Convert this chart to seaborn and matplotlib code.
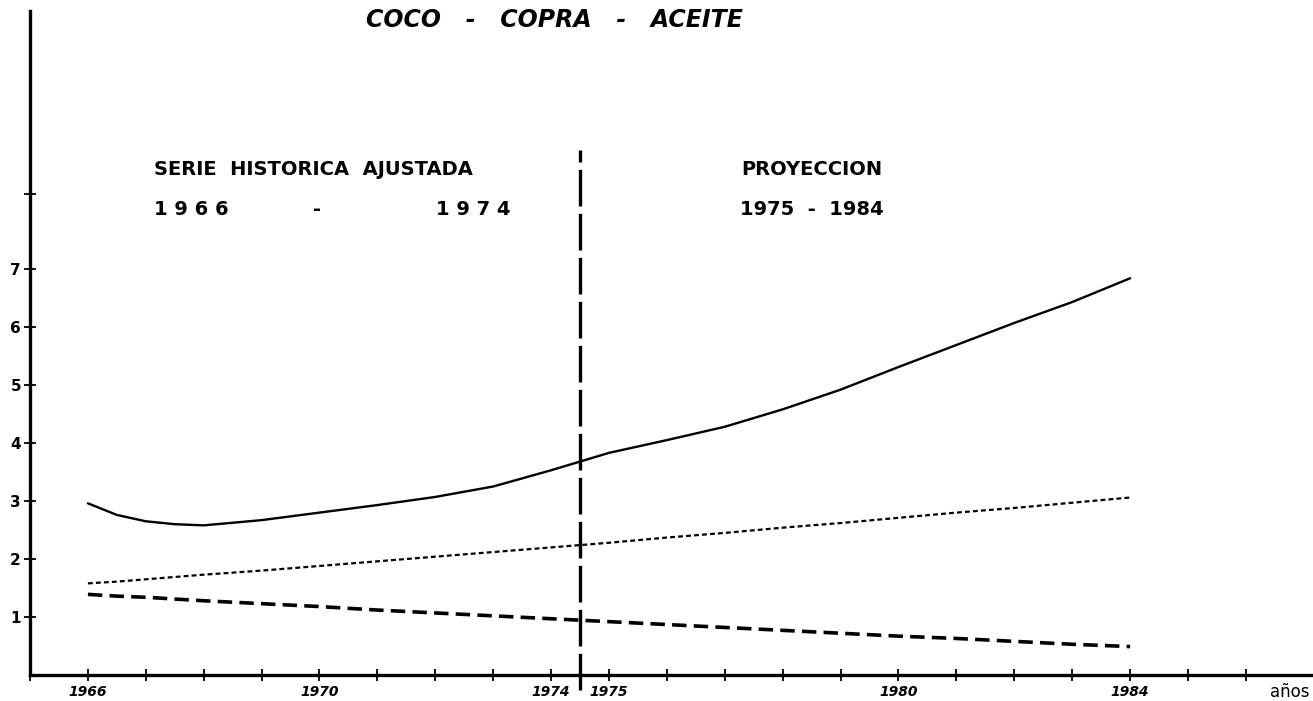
import matplotlib
matplotlib.use("Agg")
import matplotlib.pyplot as plt
import seaborn as sns
import numpy as np
import pandas as pd

# data (extra half-year readings where the curve bends)
years = [1966, 1966.5, 1967, 1967.5, 1968, 1969, 1970, 1971, 1972, 1973, 1974,
         1975, 1976, 1977, 1978, 1979, 1980, 1981, 1982, 1983, 1984]
coco = [2.96, 2.76, 2.65, 2.60, 2.58, 2.67, 2.80, 2.93, 3.07, 3.25, 3.53,
        3.83, 4.05, 4.28, 4.58, 4.92, 5.31, 5.69, 6.07, 6.43, 6.84]
copra = [1.58, 1.61, 1.65, 1.69, 1.73, 1.80, 1.88, 1.96, 2.04, 2.12, 2.20,
         2.28, 2.37, 2.45, 2.54, 2.62, 2.71, 2.80, 2.88, 2.97, 3.06]
aceite = [1.39, 1.36, 1.34, 1.31, 1.28, 1.23, 1.18, 1.12, 1.07, 1.02, 0.97,
          0.92, 0.87, 0.82, 0.77, 0.72, 0.67, 0.63, 0.58, 0.53, 0.49]

split_year = 1974.5
x_tick_years = list(range(1965, 1987))
x_labeled = [1966, 1970, 1974, 1975, 1980, 1984]
y_ticks = [1, 2, 3, 4, 5, 6, 7, 8.3]
y_labels = ["1", "2", "3", "4", "5", "6", "7", ""]

df = pd.DataFrame({"year": years, "coco": coco, "copra": copra, "aceite": aceite})

sns.set_theme(style="white")
plt.rcParams["font.family"] = ["DejaVu Sans"]
plt.rcParams["text.color"] = "black"
plt.rcParams["xtick.color"] = "black"
plt.rcParams["ytick.color"] = "black"
plt.rcParams["axes.labelcolor"] = "black"

fig = plt.figure(figsize=(13.13, 7.01), dpi=100)
ax = fig.add_axes([30 / 1313, 26 / 701, 1283 / 1313, 675 / 701])

sns.lineplot(data=df, x="year", y="coco", color="black", lw=1.7, ax=ax)
sns.lineplot(data=df, x="year", y="copra", color="black", lw=1.6, ax=ax)
sns.lineplot(data=df, x="year", y="aceite", color="black", lw=2.6, ax=ax)
ax.lines[1].set_dashes([2.2, 1.4])
ax.lines[2].set_dashes([4, 2])

# division between fitted history and projection
ax.plot([split_year, split_year], [-0.25, 9.05], color="black", lw=2.4,
        dashes=[11, 2.2], clip_on=False)

ax.set_xlim(1965, 1965 + 1283 / 57.9)
ax.set_ylim(0, 675 / 58)

for s in ["top", "right"]:
    ax.spines[s].set_visible(False)
for s in ["left", "bottom"]:
    ax.spines[s].set_linewidth(2.4)
    ax.spines[s].set_color("black")
ax.spines["left"].set_bounds(0, 11.45)

ax.set_xticks(x_tick_years)
ax.set_xticklabels([str(y) if y in x_labeled else "" for y in x_tick_years],
                   fontsize=10, fontweight="bold", fontstyle="italic")
ax.set_yticks(y_ticks)
ax.set_yticklabels(y_labels, fontsize=11, fontweight="bold")
ax.tick_params(axis="both", direction="inout", length=9, width=1.3,
               color="black", bottom=True, left=True, pad=2)
ax.tick_params(axis="x", pad=3)

ax.set_xlabel("años", fontsize=12)
ax.xaxis.set_label_coords(0.982, -0.012)
ax.set_ylabel("")

ax.text(1974.05, 11.3, "COCO   -   COPRA   -   ACEITE", ha="center", va="center",
        fontsize=17, fontweight="bold", fontstyle="italic")

ax.text(1967.15, 8.72, "SERIE  HISTORICA  AJUSTADA", ha="left", va="center",
        fontsize=14, fontweight="bold")
ax.text(1967.15, 8.03, "1 9 6 6", ha="left", va="center",
        fontsize=14, fontweight="bold")
ax.text(1969.95, 8.03, "-", ha="center", va="center",
        fontsize=14, fontweight="bold")
ax.text(1973.3, 8.03, "1 9 7 4", ha="right", va="center",
        fontsize=14, fontweight="bold")
ax.text(1978.5, 8.72, "PROYECCION", ha="center", va="center",
        fontsize=14, fontweight="bold")
ax.text(1978.5, 8.03, "1975  -  1984", ha="center", va="center",
        fontsize=14, fontweight="bold")

fig.savefig("out.png", dpi=100)
